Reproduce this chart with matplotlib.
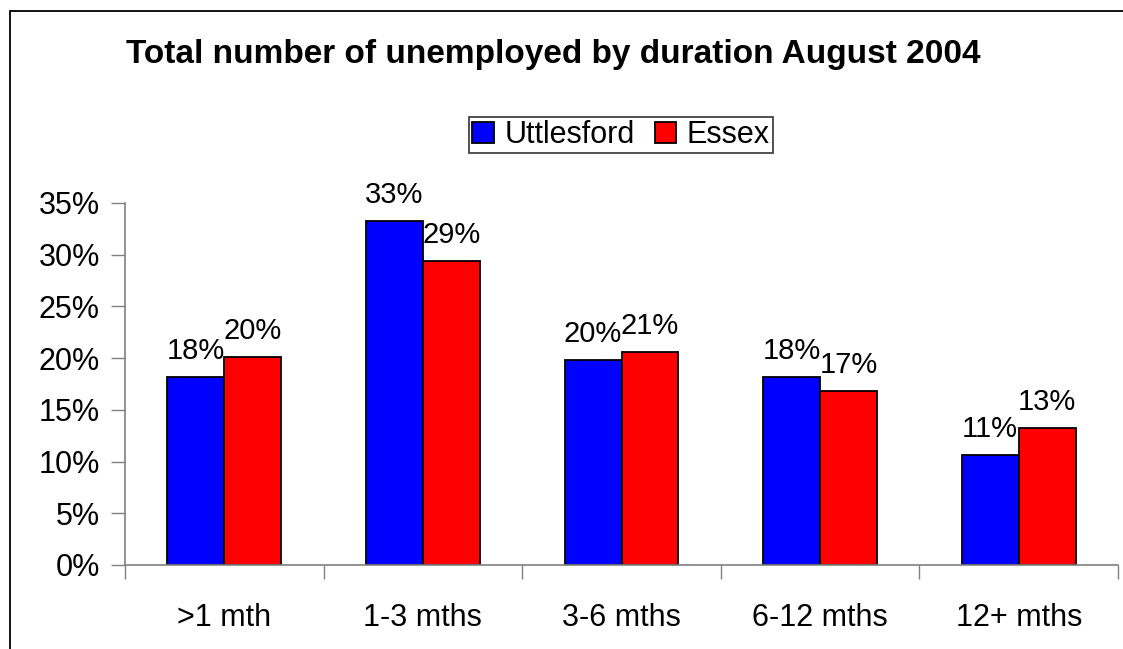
"""Unemployment by duration, Uttlesford vs Essex, August 2004."""

import matplotlib

matplotlib.use("Agg")
import matplotlib.pyplot as plt
import numpy as np
from matplotlib.patches import Rectangle
from matplotlib.ticker import FixedLocator, FuncFormatter

categories = [">1 mth", "1-3 mths", "3-6 mths", "6-12 mths", "12+ mths"]
uttlesford = [18.2, 33.3, 19.8, 18.2, 10.6]
essex = [20.1, 29.4, 20.6, 16.8, 13.2]
series_names = ["Uttlesford", "Essex"]
title = "Total number of unemployed by duration August 2004"

plt.rcParams["font.family"] = ["Liberation Sans", "DejaVu Sans"]

W, H = 1123, 649
fig = plt.figure(figsize=(W / 100, H / 100), dpi=100)
ax = fig.add_axes([125 / W, 1 - 565 / H, (1118 - 125) / W, (565 - 203) / H])

x = np.arange(len(categories))
bw = 0.287
b1 = ax.bar(x - bw, uttlesford, width=bw, align="edge", color="#0000FF",
            edgecolor="black", linewidth=1.3, label=series_names[0])
b2 = ax.bar(x, essex, width=bw, align="edge", color="#FF0000",
            edgecolor="black", linewidth=1.3, label=series_names[1])

for bars, vals in ((b1, uttlesford), (b2, essex)):
    for rect, v in zip(bars, vals):
        ax.annotate(f"{v:.0f}%", (rect.get_x() + rect.get_width() / 2, v),
                    xytext=(0, 13), textcoords="offset points",
                    ha="center", va="baseline", fontsize=21)

ax.set_xlim(-0.5, len(categories) - 0.5)
ax.set_ylim(0, 35)
ax.set_yticks(np.arange(0, 36, 5))
ax.yaxis.set_major_formatter(FuncFormatter(lambda v, _: f"{v:.0f}%"))
ax.tick_params(axis="y", length=10, width=1, color="#808080", labelsize=22, pad=8)

ax.xaxis.set_major_locator(FixedLocator(np.arange(-0.5, len(categories), 1.0)))
ax.xaxis.set_minor_locator(FixedLocator(x))
ax.xaxis.set_major_formatter(FuncFormatter(lambda v, _: ""))
ax.set_xticklabels(categories, minor=True)
ax.tick_params(axis="x", which="major", length=10, width=1, color="#808080")
ax.tick_params(axis="x", which="minor", length=0, labelsize=22, pad=27)

for side in ("top", "right"):
    ax.spines[side].set_visible(False)
for side in ("left", "bottom"):
    ax.spines[side].set_color("#808080")
    ax.spines[side].set_linewidth(1.2)

fig.text(553 / W, 1 - 63 / H, title, ha="center", va="baseline",
         fontsize=24, fontweight="bold")

leg = fig.legend(loc="center", bbox_to_anchor=(621 / W, 1 - 135 / H), ncol=2,
                 fontsize=22, frameon=True, fancybox=False, edgecolor="black",
                 handlelength=0.7, handleheight=0.7, handletextpad=0.35,
                 columnspacing=0.65, borderpad=0.1, borderaxespad=0)
leg.get_frame().set_linewidth(1.2)

fig.patches.append(Rectangle((10 / W, -0.1), 1.2, 1.1 - 11 / H,
                             transform=fig.transFigure, fill=False,
                             edgecolor="black", linewidth=1.3))

fig.savefig("out.png", dpi=100)
